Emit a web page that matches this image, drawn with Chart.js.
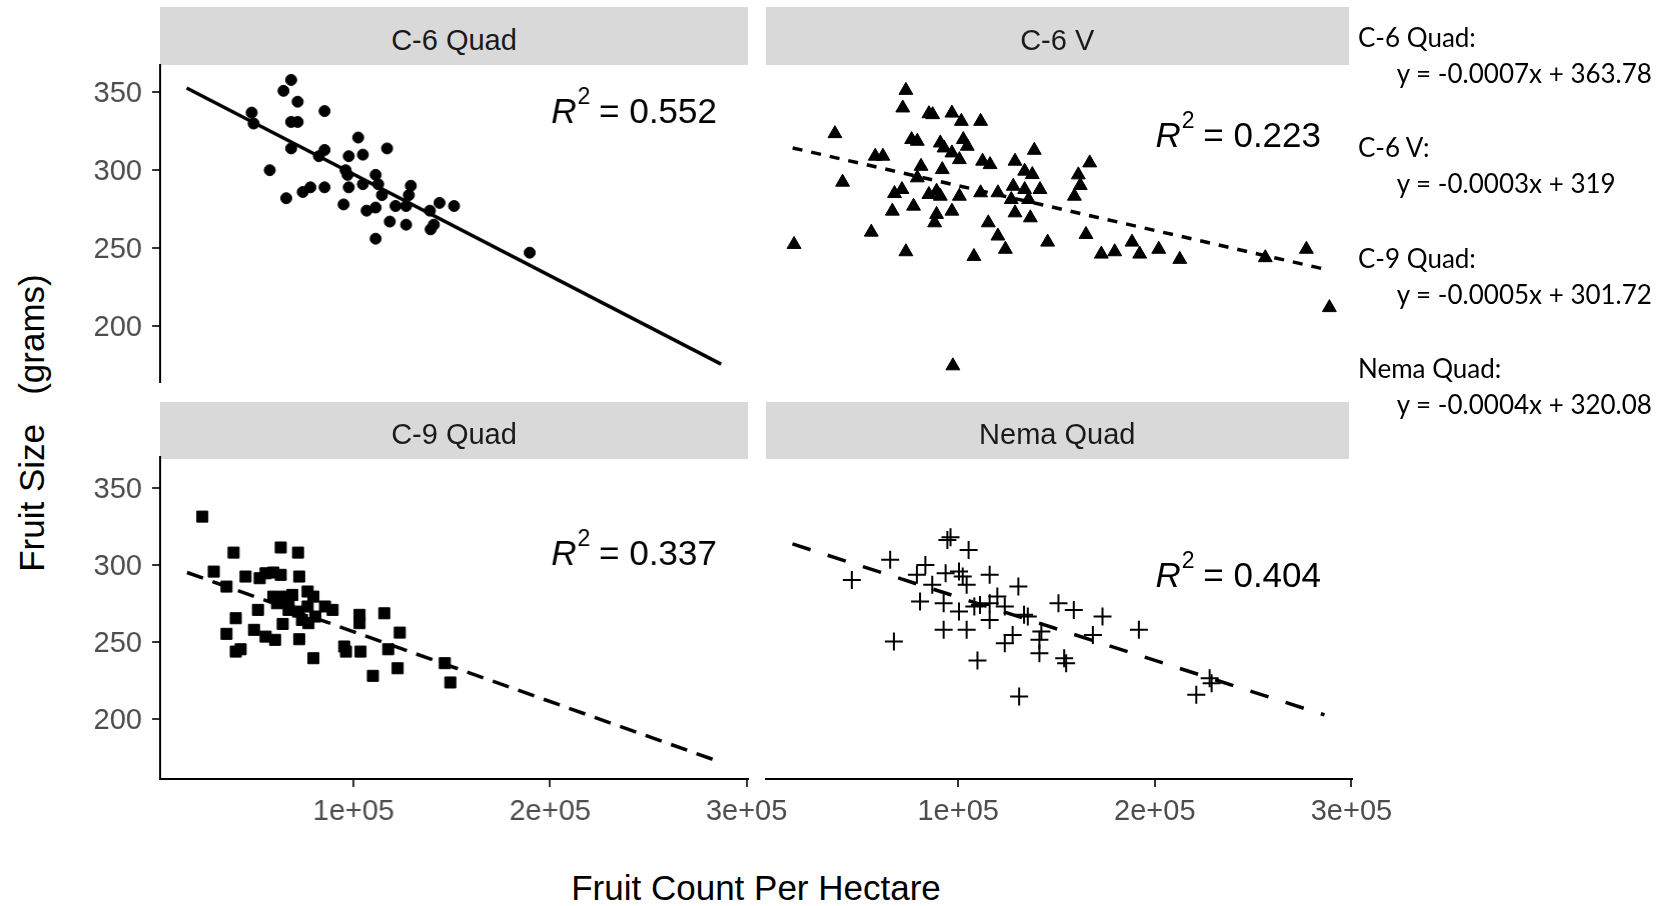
<!DOCTYPE html>
<html>
<head>
<meta charset="utf-8">
<title>Fruit size vs fruit count</title>
<script src="https://cdn.jsdelivr.net/npm/chart.js@4.4.0/dist/chart.umd.min.js"></script>
<style>
  html, body { margin: 0; padding: 0; background: #ffffff; }
  body { position: relative; width: 1663px; height: 906px; overflow: hidden; font-family: "Liberation Sans", Arial, sans-serif; }
  canvas { position: absolute; }
  .strip { position: absolute; background: #d9d9d9; }
  .stripText { position: absolute; text-align: center; font-size: 29px; line-height: 29px; color: #1a1a1a; white-space: pre; }
  .axisTitle { position: absolute; font-size: 35px; line-height: 35px; color: #000000; white-space: pre; }
  .eq { position: absolute; font-family: Lato, "Open Sans", sans-serif; font-size: 26px; line-height: 26px; color: #000000; white-space: pre; }
</style>
</head>
<body>
<script>
// facet names and fit labels
var panelNames = ['C-6 Quad', 'C-6 V', 'C-9 Quad', 'Nema Quad'];
var r2Values = ['0.552', '0.223', '0.337', '0.404'];
var r2LabelY = [330.4, 315, 299.7, 285.7];
var equationLabels = ['C-6 Quad:', 'C-6 V:', 'C-9 Quad:', 'Nema Quad:'];
var equationTexts = ['y = -0.0007x + 363.78', 'y = -0.0003x + 319', 'y = -0.0005x + 301.72', 'y = -0.0004x + 320.08'];

// axes
var xTicks = [100000, 200000, 300000];
var xTickLabels = ['1e+05', '2e+05', '3e+05'];
var yTicks = [200, 250, 300, 350];
var xTitle = 'Fruit Count Per Hectare';
var yTitle = 'Fruit Size   (grams)';

// C-6 Quad
var c6QuadX = [68200, 64300, 71500, 85200, 48100, 49100, 68200, 71500, 102300, 117000, 68200, 85200, 82300, 97500, 104700, 57300, 95900, 96900, 111200, 104700, 112500, 85200, 78000, 74100, 97500, 65700, 114400, 129100, 128100, 121300, 126700, 143700, 151100, 138800, 94900, 106600, 111200, 118400, 126700, 140800, 139200, 111200, 189600];
var c6QuadY = [358, 351, 344, 338, 337, 330, 331, 331, 321, 314, 314, 313, 309, 309, 310, 300, 300, 297, 297, 291, 291, 289, 289, 286, 289, 282, 284, 290, 284, 277, 277, 279, 277, 274, 278, 274, 276, 267, 265, 265, 262, 256, 247];
var c6QuadFitX = [15000, 287000];
var c6QuadFitY = [352.8, 175.4];

// C-6 V
var c6VX = [73400, 71800, 85100, 87000, 96800, 101600, 111400, 37300, 76300, 79200, 90900, 102600, 92800, 104600, 96800, 138700, 57800, 61700, 100600, 112400, 116200, 128900, 166900, 81100, 91900, 133800, 137700, 41200, 79200, 162100, 71400, 67600, 85100, 89000, 90900, 100600, 111400, 120200, 128000, 133800, 141600, 127000, 135800, 159100, 77300, 66500, 96800, 89000, 128900, 136700, 88000, 115300, 55800, 165000, 120200, 145500, 16500, 188400, 124000, 73400, 108000, 172800, 179600, 192300, 202000, 212700, 256200, 277100, 288800, 97300, 161100];
var c6VY = [351.3, 340, 336.3, 335.7, 336.7, 331.4, 331.4, 323.5, 319.7, 318.6, 317.5, 319.7, 314.3, 315.4, 311.1, 312.8, 309, 309, 306.8, 305.8, 303.6, 305.8, 304.7, 302.5, 300.4, 299.4, 297.2, 292.3, 295.1, 290.2, 287.6, 285, 284.4, 286.5, 283.3, 283.3, 285.5, 285.5, 289.7, 287.6, 287.6, 281.2, 281.2, 283.3, 276.9, 273.7, 273.7, 271.6, 272.6, 269.4, 266.2, 266.2, 260.2, 258.7, 257.7, 253.8, 252.3, 253.8, 249.2, 247.6, 244.6, 246.1, 247.6, 246.1, 249.2, 242.7, 243.8, 249.2, 211.7, 174.3, 297];
var c6VFitX = [15800, 286800];
var c6VFitY = [314.3, 236.3];

// C-9 Quad
var c9QuadX = [23000, 38900, 62900, 71700, 28800, 35300, 45000, 52200, 55200, 59100, 62900, 72300, 59100, 61000, 64900, 68800, 76600, 79500, 76600, 71700, 66900, 51300, 85400, 89300, 103000, 103000, 115600, 40000, 40000, 42500, 35300, 49300, 55200, 60000, 63900, 72300, 77000, 95200, 96100, 103500, 117600, 123500, 79500, 109800, 122400, 146400, 149200, 66900, 80500, 73700];
var c9QuadY = [331.2, 307.9, 311.2, 307.9, 295.6, 285.9, 292.4, 291.3, 294.5, 295, 293.5, 292.4, 279.4, 275.1, 279.4, 280.5, 282.7, 279.4, 273, 269.7, 270.8, 270.8, 273, 270.8, 267.6, 262.2, 268.6, 265.4, 243.8, 245.3, 255.3, 257.9, 253.5, 251.4, 261.7, 251.8, 262.2, 247.1, 243.8, 243.8, 245.3, 256.1, 239.5, 228.1, 233, 236.3, 223.8, 276.2, 266.5, 264.3];
var c9QuadFitX = [15200, 287300];
var c9QuadFitY = [295, 172];

// Nema Quad
var nemaQuadX = [94500, 96100, 105300, 65400, 45900, 83300, 79000, 93600, 100400, 104300, 86800, 116000, 130600, 80600, 92600, 108200, 116000, 123700, 100400, 116000, 133500, 151000, 158800, 173400, 191900, 92600, 104300, 67300, 127700, 123700, 142300, 141300, 141300, 168500, 109800, 153900, 154900, 131000, 221100, 228900, 227900, 111100, 135400, 119900, 102300];
var nemaQuadY = [316.1, 317.8, 309.6, 303.2, 290.2, 299.9, 293.5, 294.5, 295.6, 287, 287, 293.5, 285.9, 276.2, 275.1, 273, 275.1, 273, 269.7, 264.3, 267.6, 275.1, 270.8, 266.5, 257.9, 257.9, 257.9, 250.3, 254.6, 249.2, 256.8, 251.4, 242.7, 254.6, 238, 239.5, 236.3, 214.7, 215.8, 223.3, 226.6, 274, 266.5, 279.4, 292.4];
var nemaQuadFitX = [15700, 286300];
var nemaQuadFitY = [313.5, 202.8];

var CHART_FONT = '"Liberation Sans", Arial, sans-serif';

function toPoints(xs, ys) {
    return xs.map(function (x, i) { return { x: x, y: ys[i] }; });
}

function addDiv(cls, text, style) {
    var d = document.createElement('div');
    d.className = cls;
    if (text !== null) d.textContent = text;
    Object.keys(style).forEach(function (k) { d.style[k] = style[k]; });
    document.body.appendChild(d);
    return d;
}

// R^2 label, right aligned inside the panel
var r2Plugin = {
    id: 'r2Label',
    afterDatasetsDraw: function (chart, args, opts) {
        var ctx = chart.ctx;
        var y = chart.scales.y.getPixelForValue(opts.y);
        var rest = ' = ' + opts.value;
        ctx.save();
        ctx.fillStyle = '#000000';
        ctx.textBaseline = 'alphabetic';
        ctx.textAlign = 'left';
        ctx.font = '35px ' + CHART_FONT;
        var restW = ctx.measureText(rest).width;
        ctx.font = '23px ' + CHART_FONT;
        var supW = ctx.measureText('2').width;
        ctx.font = 'italic 35px ' + CHART_FONT;
        var rW = ctx.measureText('R').width;
        var x = chart.chartArea.right - 31 - restW - supW - rW;
        ctx.fillText('R', x, y);
        ctx.font = '23px ' + CHART_FONT;
        ctx.fillText('2', x + rW + 1, y - 19);
        ctx.font = '35px ' + CHART_FONT;
        ctx.fillText(rest, x + rW + supW, y);
        ctx.restore();
    }
};

function buildPanel(p) {
    var padT = 30;
    var padL = p.showY ? 0 : 30;
    var axisW = p.showY ? 80 : 0;
    var padR = p.showX ? 60 : 30;
    var padB = p.showX ? 0 : 30;
    var axisH = p.showX ? 60 : 0;
    var w = padL + axisW + (p.area.right - p.area.left) + padR;
    var h = padT + (p.area.bottom - p.area.top) + axisH + padB;

    var canvas = document.createElement('canvas');
    canvas.width = w;
    canvas.height = h;
    canvas.style.left = (p.area.left - padL - axisW) + 'px';
    canvas.style.top = (p.area.top - padT) + 'px';
    canvas.style.width = w + 'px';
    canvas.style.height = h + 'px';
    document.body.appendChild(canvas);

    new Chart(canvas, {
        type: 'scatter',
        data: {
            datasets: [{
                data: toPoints(p.xs, p.ys),
                pointStyle: p.pointStyle,
                pointRadius: p.radius,
                pointBorderWidth: p.borderWidth,
                backgroundColor: '#000000',
                borderColor: '#000000',
                showLine: false,
                clip: false,
                order: 1
            }, {
                data: toPoints(p.fitX, p.fitY),
                showLine: true,
                borderColor: '#000000',
                borderWidth: 3.5,
                borderDash: p.dash,
                pointRadius: 0,
                fill: false,
                clip: false,
                order: 0
            }]
        },
        options: {
            responsive: false,
            animation: false,
            devicePixelRatio: 1,
            layout: { autoPadding: false, padding: { left: padL, top: padT, right: padR, bottom: padB } },
            plugins: {
                legend: { display: false },
                tooltip: { enabled: false },
                r2Label: { value: p.r2, y: p.r2Y }
            },
            scales: {
                x: {
                    type: 'linear',
                    display: p.showX,
                    min: p.xMin,
                    max: p.xMax,
                    bounds: 'data',
                    afterBuildTicks: function (s) { s.ticks = xTicks.map(function (v) { return { value: v }; }); },
                    afterFit: function (s) { s.height = axisH; },
                    grid: { display: true, drawOnChartArea: false, drawTicks: true, tickLength: 8, color: '#333333', lineWidth: 2 },
                    border: { display: true, color: '#000000', width: 2 },
                    ticks: {
                        autoSkip: false, maxRotation: 0, padding: 8, color: '#4d4d4d',
                        font: { family: CHART_FONT, size: 29 },
                        callback: function (v) { return xTickLabels[xTicks.indexOf(v)]; }
                    }
                },
                y: {
                    type: 'linear',
                    display: p.showY,
                    min: p.yMin,
                    max: p.yMax,
                    bounds: 'data',
                    afterBuildTicks: function (s) { s.ticks = yTicks.map(function (v) { return { value: v }; }); },
                    afterFit: function (s) { s.width = axisW; },
                    grid: { display: true, drawOnChartArea: false, drawTicks: true, tickLength: 8, color: '#333333', lineWidth: 2 },
                    border: { display: true, color: '#000000', width: 2 },
                    ticks: {
                        autoSkip: false, padding: 10, labelOffset: 2, color: '#4d4d4d',
                        font: { family: CHART_FONT, size: 29 }
                    }
                }
            }
        },
        plugins: [r2Plugin]
    });
}

var topRow = { top: 65, bottom: 382, yMin: 163.9, yMax: 367.6, stripTop: 7.3, textBase: 50 };
var bottomRow = { top: 457, bottom: 779, yMin: 161.3, yMax: 369.8, stripTop: 401.7, textBase: 444.4 };
var leftCol = { left: 160, right: 747.5, stripRight: 748, xMin: 1500, xMax: 300700 };
var rightCol = { left: 766, right: 1352, stripRight: 1348.5, xMin: 2240, xMax: 300300 };

var panels = [
    { row: topRow, col: leftCol, xs: c6QuadX, ys: c6QuadY, fitX: c6QuadFitX, fitY: c6QuadFitY, pointStyle: 'circle', radius: 5.5, borderWidth: 1, dash: [], showX: false, showY: true },
    { row: topRow, col: rightCol, xs: c6VX, ys: c6VY, fitX: c6VFitX, fitY: c6VFitY, pointStyle: 'triangle', radius: 8, borderWidth: 1, dash: [10, 9], showX: false, showY: false },
    { row: bottomRow, col: leftCol, xs: c9QuadX, ys: c9QuadY, fitX: c9QuadFitX, fitY: c9QuadFitY, pointStyle: 'rect', radius: 7.8, borderWidth: 1, dash: [17, 10], showX: true, showY: true },
    { row: bottomRow, col: rightCol, xs: nemaQuadX, ys: nemaQuadY, fitX: nemaQuadFitX, fitY: nemaQuadFitY, pointStyle: 'cross', radius: 9, borderWidth: 2, dash: [19, 18], showX: true, showY: false }
];

panels.forEach(function (p, i) {
    p.area = { left: p.col.left, right: p.col.right, top: p.row.top, bottom: p.row.bottom };
    p.xMin = p.col.xMin; p.xMax = p.col.xMax;
    p.yMin = p.row.yMin; p.yMax = p.row.yMax;
    p.r2 = r2Values[i];
    p.r2Y = r2LabelY[i];

    var sw = p.col.stripRight - p.col.left;
    addDiv('strip', null, { left: p.col.left + 'px', top: p.row.stripTop + 'px', width: sw + 'px', height: '57.7px' });
    addDiv('stripText', panelNames[i], { left: p.col.left + 'px', width: sw + 'px', top: (p.row.textBase - 24.5) + 'px' });

    buildPanel(p);
});

// equations block on the right
equationLabels.forEach(function (lab, i) {
    var base = 46.7 + i * 110.5;
    addDiv('eq', lab, { left: '1358px', top: (base - 23) + 'px' });
    addDiv('eq', equationTexts[i], { left: '1396.7px', top: (base + 36 - 23) + 'px' });
});

// axis titles
addDiv('axisTitle', xTitle, { left: '756px', top: '870.4px', transform: 'translateX(-50%)' });
addDiv('axisTitle', yTitle, { left: '31.2px', top: '422.5px', transform: 'translate(-50%, -50%) rotate(-90deg)' });
</script>
</body>
</html>
